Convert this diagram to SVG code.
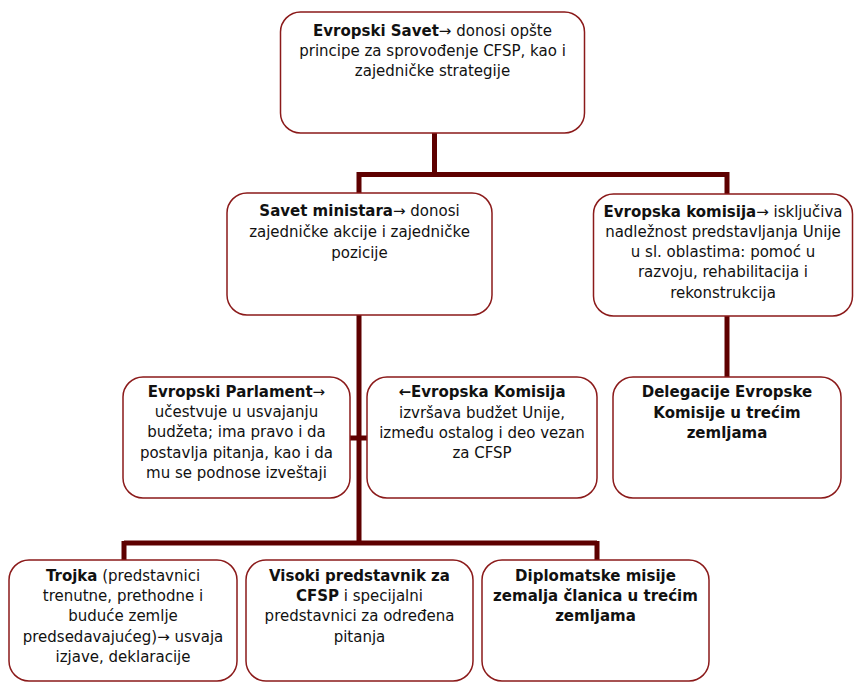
<svg xmlns="http://www.w3.org/2000/svg" width="854" height="682" viewBox="0 0 854 682">
<style>
.box{fill:#fff;stroke:#8b1a1a;stroke-width:1.5}
.t{font-family:"DejaVu Sans","Liberation Sans",sans-serif;font-size:15px;fill:#111;text-anchor:middle}
.b{font-weight:bold}
.c{fill:none;stroke:#5e0000;stroke-width:5}
</style>
<rect width="854" height="682" fill="#fff"/>
<g id="connectors">
<path class="c" d="M434.5 133V174.5M359 174.5H727M359 172V193M727 172V194"/>
<path class="c" d="M359 315V543M350 438H367"/>
<path class="c" d="M727 316V377"/>
<path class="c" d="M124 543H597M124 541V560M597 541V560"/>
</g>
<g id="n1">
<rect class="box" x="280.5" y="12" width="304" height="121" rx="20"/>
<text class="t" x="432.5" y="36"><tspan class="b">Evropski Savet</tspan>→ donosi opšte</text>
<text class="t" x="432.5" y="56">principe za sprovođenje CFSP, kao i</text>
<text class="t" x="432.5" y="76">zajedničke strategije</text>
</g>
<g id="n2">
<rect class="box" x="227" y="193" width="265" height="122" rx="20"/>
<text class="t" x="359.5" y="216"><tspan class="b">Savet ministara</tspan>→ donosi</text>
<text class="t" x="359.5" y="237">zajedničke akcije i zajedničke</text>
<text class="t" x="359.5" y="258">pozicije</text>
</g>
<g id="n3">
<rect class="box" x="593.5" y="194" width="259" height="122" rx="20"/>
<text class="t" x="723" y="217"><tspan class="b">Evropska komisija</tspan>→ isključiva</text>
<text class="t" x="723" y="237">nadležnost predstavljanja Unije</text>
<text class="t" x="723" y="257">u sl. oblastima: pomoć u</text>
<text class="t" x="723" y="277">razvoju, rehabilitacija i</text>
<text class="t" x="723" y="298">rekonstrukcija</text>
</g>
<g id="n4">
<rect class="box" x="123" y="377" width="227" height="121" rx="20"/>
<text class="t" x="236.5" y="397"><tspan class="b">Evropski Parlament</tspan>→</text>
<text class="t" x="236.5" y="417">učestvuje u usvajanju</text>
<text class="t" x="236.5" y="437">budžeta; ima pravo i da</text>
<text class="t" x="236.5" y="458">postavlja pitanja, kao i da</text>
<text class="t" x="236.5" y="478">mu se podnose izveštaji</text>
</g>
<g id="n5">
<rect class="box" x="367" y="377" width="230" height="121" rx="20"/>
<text class="t b" x="482" y="397">←Evropska Komisija</text>
<text class="t" x="482" y="418">izvršava budžet Unije,</text>
<text class="t" x="482" y="438">između ostalog i deo vezan</text>
<text class="t" x="482" y="458">za CFSP</text>
</g>
<g id="n6">
<rect class="box" x="613" y="377" width="228" height="121" rx="20"/>
<text class="t b" x="727" y="397">Delegacije Evropske</text>
<text class="t b" x="727" y="418">Komisije u trećim</text>
<text class="t b" x="727" y="438">zemljama</text>
</g>
<g id="n7">
<rect class="box" x="9" y="560" width="228" height="121" rx="20"/>
<text class="t" x="123" y="581"><tspan class="b">Trojka</tspan> (predstavnici</text>
<text class="t" x="123" y="601">trenutne, prethodne i</text>
<text class="t" x="123" y="621">buduće zemlje</text>
<text class="t" x="123" y="642">predsedavajućeg)→ usvaja</text>
<text class="t" x="123" y="662">izjave, deklaracije</text>
</g>
<g id="n8">
<rect class="box" x="246" y="560" width="227" height="121" rx="20"/>
<text class="t b" x="359.5" y="581">Visoki predstavnik za</text>
<text class="t" x="359.5" y="601"><tspan class="b">CFSP</tspan> i specijalni</text>
<text class="t" x="359.5" y="621">predstavnici za određena</text>
<text class="t" x="359.5" y="642">pitanja</text>
</g>
<g id="n9">
<rect class="box" x="482" y="560" width="227" height="121" rx="20"/>
<text class="t b" x="595.5" y="581">Diplomatske misije</text>
<text class="t b" x="595.5" y="601">zemalja članica u trećim</text>
<text class="t b" x="595.5" y="621">zemljama</text>
</g>
</svg>
